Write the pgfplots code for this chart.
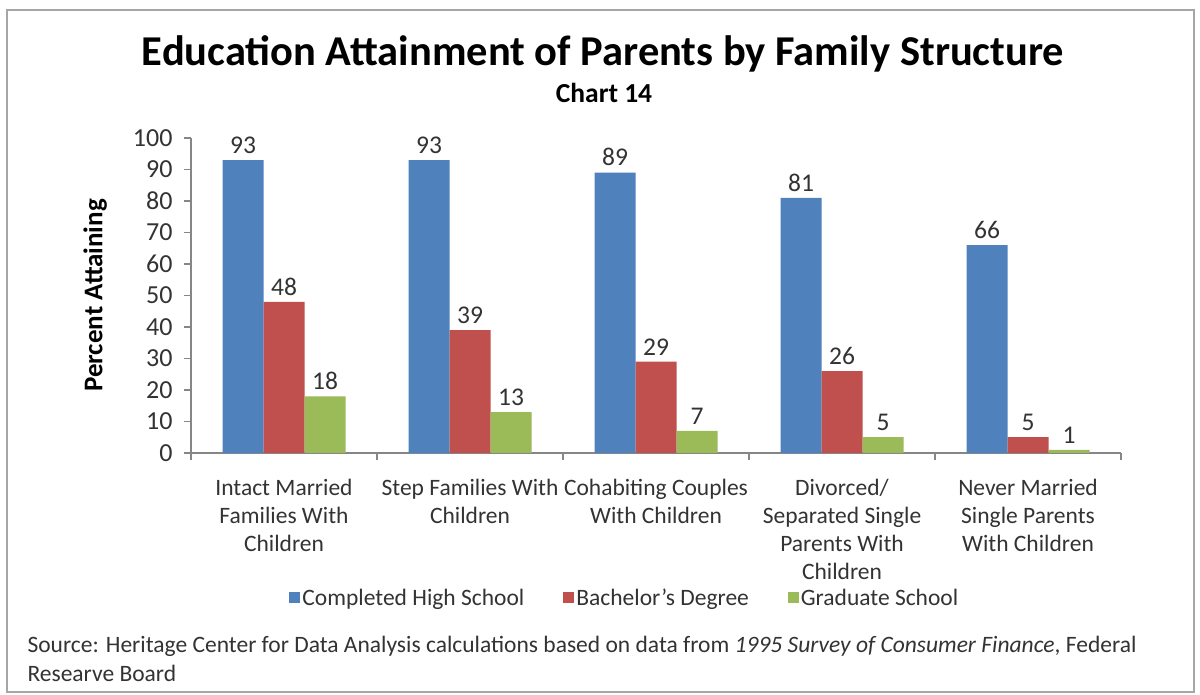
\documentclass[border=0pt]{standalone}
\usepackage{pgfplots}
\pgfplotsset{compat=1.18}
\usepackage{fontspec}
\setmainfont{Carlito}
\definecolor{xblue}{HTML}{4F81BD}
\definecolor{xred}{HTML}{C0504D}
\definecolor{xgreen}{HTML}{9BBB59}
\definecolor{axisgray}{HTML}{868686}
\definecolor{bordergray}{HTML}{A6A6A6}
\definecolor{txt}{HTML}{333333}
\pgfkeys{/pgf/number format/assume math mode=true}
\begin{document}
\begin{tikzpicture}[x=1bp,y=1bp]
\useasboundingbox (0,0) rectangle (1200,695);
\fill[white] (0,0) rectangle (1200,695);
\draw[bordergray, line width=2bp] (7,3) rectangle (1194,685);
\node[anchor=base, font=\fontsize{42.5bp}{50bp}\selectfont\bfseries] at (603,629) {Education Attainment of Parents by Family Structure};
\node[anchor=base, font=\fontsize{27.5bp}{30bp}\selectfont\bfseries] at (604,592) {Chart 14};
\node[anchor=base west, text=txt, font=\fontsize{23.5bp}{28bp}\selectfont] at (24,42) {Source: Heritage Center for Data Analysis calculations based on data from \textit{1995 Survey of Consumer Finance}, Federal};
\node[anchor=base west, text=txt, font=\fontsize{23.5bp}{28bp}\selectfont] at (24,13) {Researve Board};
\begin{axis}[
  at={(191bp,242bp)}, anchor=south west,
  scale only axis, width=930bp, height=315bp,
  xmin=-0.5, xmax=4.5, ymin=0, ymax=100,
  enlargelimits=false,
  axis x line=bottom, axis y line=left,
  axis line style={-, axisgray, line width=1.2bp},
  tick align=outside, major tick length=7bp,
  tick style={axisgray, line width=1.2bp},
  ytick={0,10,...,100},
  xtick={-0.5,0.5,...,4.5},
  x tick label as interval,
  xticklabels={{Intact Married\\Families With\\Children},{Step Families With\\Children},{Cohabiting Couples\\With Children},{Divorced/\\Separated Single\\Parents With\\Children},{Never Married\\Single Parents\\With Children}},
  xticklabel style={align=center, text=txt, font=\fontsize{23.5bp}{28bp}\selectfont, yshift=-16bp},
  yticklabel style={text=txt, font=\fontsize{26bp}{28bp}\selectfont, xshift=-8bp},
  ylabel={\textbf{Percent Attaining}},
  every axis y label/.style={at={(axis description cs:-0.103,0.5)}, rotate=90, anchor=center, font=\fontsize{27bp}{30bp}\selectfont},
  ybar=0pt, bar width=41bp,
  nodes near coords,
  every node near coord/.append style={font=\fontsize{25.5bp}{28bp}\selectfont, yshift=3bp, text=txt},
  legend columns=3,
  legend style={at={(axis description cs:0.4665,-0.46)}, anchor=center, draw=none, text=txt, font=\fontsize{23.5bp}{28bp}\selectfont, nodes={inner xsep=2bp}, /tikz/every even column/.append style={column sep=37bp}},
  legend image code/.code={\fill[#1] (0bp,-5.5bp) rectangle (11bp,5.5bp);},
]
\addplot[fill=xblue, draw=none] coordinates {(0,93) (1,93) (2,89) (3,81) (4,66)};
\addplot[fill=xred, draw=none] coordinates {(0,48) (1,39) (2,29) (3,26) (4,5)};
\addplot[fill=xgreen, draw=none] coordinates {(0,18) (1,13) (2,7) (3,5) (4,1)};
\legend{Completed High School, Bachelor's Degree, Graduate School}
\end{axis}
\end{tikzpicture}
\end{document}
